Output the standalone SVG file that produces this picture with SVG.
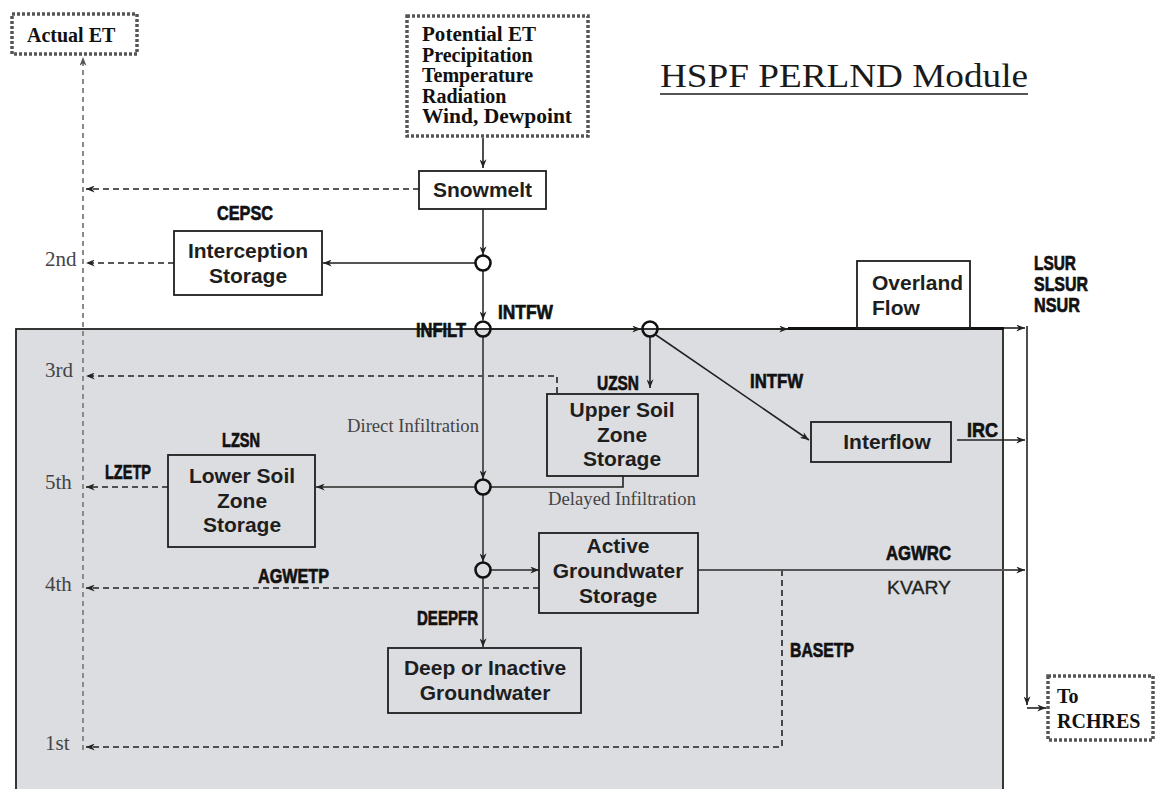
<svg xmlns="http://www.w3.org/2000/svg" width="1159" height="789" viewBox="0 0 1159 789">
<defs>
<marker id="ah" viewBox="0 0 10 8" refX="10" refY="4" markerUnits="userSpaceOnUse" markerWidth="9" markerHeight="7" orient="auto">
<path d="M0,0 L10,4 L0,8 L3,4 z" fill="#222"/>
</marker>
<marker id="ahg" viewBox="0 0 10 8" refX="10" refY="4" markerUnits="userSpaceOnUse" markerWidth="9" markerHeight="7" orient="auto">
<path d="M0,0 L10,4 L0,8 L3,4 z" fill="#555"/>
</marker>
</defs>
<style>
.box{fill:none;stroke:#1e1e1e;stroke-width:1.8}
.dot{fill:none;stroke:#555;stroke-width:3.5;stroke-dasharray:3 2}
.sb{font-family:"Liberation Sans",Arial,sans-serif;font-weight:bold;font-size:21px;fill:#1e1e1e;text-anchor:middle}
.cd{font-family:"Liberation Sans",Arial,sans-serif;font-weight:bold;font-size:21px;fill:#111;stroke:#111;stroke-width:0.7}
.tb{font-family:"Liberation Serif","Times New Roman",serif;font-weight:bold;font-size:20px;fill:#111}
.tr{font-family:"Liberation Serif","Times New Roman",serif;font-size:21px;fill:#444}
.ts{font-family:"Liberation Serif","Times New Roman",serif;font-size:18.5px;fill:#444}
.ln{fill:none;stroke:#222;stroke-width:1.6}
.lg{fill:none;stroke:#555;stroke-width:2}
.dl{fill:none;stroke:#222;stroke-width:1.6;stroke-dasharray:6 4}
.gv{fill:none;stroke:#8a8a8a;stroke-width:2;stroke-dasharray:5 4}
.jc{fill:none;stroke:#111;stroke-width:2.6}
</style>
<rect width="1159" height="789" fill="#fff"/>
<g id="soil-zone">
<rect x="16" y="329" width="987" height="480" fill="#dcdde0" stroke="#222" stroke-width="1.8"/>
</g>
<g id="title">
<text x="660" y="87" font-family="'Liberation Serif','Times New Roman',serif" font-size="34" fill="#1a1a1a" textLength="368" lengthAdjust="spacingAndGlyphs">HSPF PERLND Module</text>
<line x1="660" y1="94" x2="1028" y2="94" stroke="#1a1a1a" stroke-width="1.6"/>
</g>
<g id="connectors">
<path class="gv" d="M83,750 L83,57" marker-end="url(#ahg)"/>
<path class="dl" d="M419,189 L86,189" marker-end="url(#ah)"/>
<path class="dl" d="M174,263 L86,263" marker-end="url(#ah)"/>
<path class="dl" d="M557,393 L557,376 L86,376" marker-end="url(#ah)"/>
<path class="dl" d="M168,487 L86,487" marker-end="url(#ah)"/>
<path class="dl" d="M539,588 L86,588" marker-end="url(#ah)"/>
<path class="dl" d="M782,570 L782,747 L86,747" marker-end="url(#ah)"/>
<path class="ln" d="M483,138 L483,168" marker-end="url(#ah)"/>
<path class="lg" d="M483,209 L483,255" marker-end="url(#ah)"/>
<path class="lg" d="M475,263 L323,263" marker-end="url(#ah)"/>
<path class="lg" d="M483,271 L483,320" marker-end="url(#ah)"/>
<path class="ln" d="M491,329 L641,329" marker-end="url(#ah)"/>
<path class="ln" d="M658,329 L788,329" marker-end="url(#ah)"/>
<path d="M788,328.5 L1004,328.5" stroke="#111" stroke-width="3.2"/>
<path class="ln" d="M1004,328 L1025,328" marker-end="url(#ah)"/>
<path class="ln" d="M650,337 L650,388" marker-end="url(#ah)"/>
<path class="ln" d="M656,335 L809,440" marker-end="url(#ah)"/>
<path class="lg" d="M483,337 L483,479" marker-end="url(#ah)"/>
<path class="lg" d="M475,487 L316,487" marker-end="url(#ah)"/>
<path class="ln" d="M623,476 L623,487 L491,487"/>
<path class="lg" d="M483,495 L483,562" marker-end="url(#ah)"/>
<path class="lg" d="M491,570 L539,570" marker-end="url(#ah)"/>
<path class="lg" d="M483,578 L483,647" marker-end="url(#ah)"/>
<path class="lg" d="M698,570 L1025,570" marker-end="url(#ah)"/>
<path class="ln" d="M957,440 L1025,440" marker-end="url(#ah)"/>
<path class="ln" d="M1027,326 L1027,705" marker-end="url(#ah)"/>
<path class="ln" d="M1027,708 L1046,708" marker-end="url(#ah)"/>
<circle class="jc" cx="483" cy="263" r="7.5"/>
<circle class="jc" cx="483" cy="329" r="7.5"/>
<circle class="jc" cx="650" cy="329" r="7.5"/>
<circle class="jc" cx="483" cy="487" r="7.5"/>
<circle class="jc" cx="483" cy="570" r="7.5"/>
</g>
<g id="actual-et">
<rect class="dot" x="12" y="14" width="125" height="40"/>
<text class="tb" x="27" y="42" font-size="21">Actual ET</text>
</g>
<g id="inputs">
<rect class="dot" x="407" y="16" width="181" height="120"/>
<text class="tb" x="422" y="41" textLength="114" lengthAdjust="spacingAndGlyphs">Potential ET</text>
<text class="tb" x="422" y="62">Precipitation</text>
<text class="tb" x="422" y="82">Temperature</text>
<text class="tb" x="422" y="103">Radiation</text>
<text class="tb" x="422" y="123" textLength="150" lengthAdjust="spacingAndGlyphs">Wind, Dewpoint</text>
</g>
<g id="snowmelt">
<rect class="box" x="419" y="171" width="127" height="38" fill="#fff"/>
<text class="sb" x="482.5" y="197">Snowmelt</text>
</g>
<g id="interception">
<rect class="box" x="174" y="231" width="148" height="64"/>
<text class="sb" x="248" y="258">Interception</text>
<text class="sb" x="248" y="283">Storage</text>
<text class="cd" x="217" y="220" textLength="56" lengthAdjust="spacingAndGlyphs">CEPSC</text>
</g>
<g id="overland">
<rect class="box" x="857" y="261" width="113" height="67"/>
<text class="sb" x="872" y="290" style="text-anchor:start">Overland</text>
<text class="sb" x="872" y="315" style="text-anchor:start">Flow</text>
<text class="cd" x="1034" y="270" font-size="19" textLength="42" lengthAdjust="spacingAndGlyphs">LSUR</text>
<text class="cd" x="1034" y="291" font-size="19" textLength="54" lengthAdjust="spacingAndGlyphs">SLSUR</text>
<text class="cd" x="1034" y="312" font-size="19" textLength="46" lengthAdjust="spacingAndGlyphs">NSUR</text>
</g>
<g id="infilt-labels">
<text class="cd" x="416" y="337" textLength="50" lengthAdjust="spacingAndGlyphs">INFILT</text>
<text class="cd" x="498" y="319" textLength="55" lengthAdjust="spacingAndGlyphs">INTFW</text>
<text class="ts" x="347" y="432" textLength="132" lengthAdjust="spacingAndGlyphs">Direct Infiltration</text>
<text class="ts" x="548" y="505" textLength="148" lengthAdjust="spacingAndGlyphs">Delayed Infiltration</text>
</g>
<g id="upper-soil">
<rect class="box" x="547" y="394" width="151" height="82"/>
<text class="sb" x="622" y="417">Upper Soil</text>
<text class="sb" x="622" y="442">Zone</text>
<text class="sb" x="622" y="466">Storage</text>
<text class="cd" x="597" y="390" textLength="42" lengthAdjust="spacingAndGlyphs">UZSN</text>
</g>
<g id="interflow">
<rect class="box" x="811" y="422" width="140" height="40"/>
<text class="sb" x="887" y="449">Interflow</text>
<text class="cd" x="750" y="388" textLength="53" lengthAdjust="spacingAndGlyphs">INTFW</text>
<text class="cd" x="967" y="437" textLength="31" lengthAdjust="spacingAndGlyphs">IRC</text>
</g>
<g id="lower-soil">
<rect class="box" x="168" y="455" width="147" height="92"/>
<text class="sb" x="242" y="483">Lower Soil</text>
<text class="sb" x="242" y="508">Zone</text>
<text class="sb" x="242" y="532">Storage</text>
<text class="cd" x="222" y="447" textLength="38" lengthAdjust="spacingAndGlyphs">LZSN</text>
<text class="cd" x="105" y="479" textLength="46" lengthAdjust="spacingAndGlyphs">LZETP</text>
</g>
<g id="active-gw">
<rect class="box" x="539" y="533" width="159" height="80"/>
<text class="sb" x="618" y="553">Active</text>
<text class="sb" x="618" y="578">Groundwater</text>
<text class="sb" x="618" y="603">Storage</text>
<text class="cd" x="258" y="583" textLength="71" lengthAdjust="spacingAndGlyphs">AGWETP</text>
<text class="cd" x="886" y="560" textLength="65" lengthAdjust="spacingAndGlyphs">AGWRC</text>
<text x="887" y="594" font-family="'Liberation Sans',Arial,sans-serif" font-size="19" fill="#222" stroke="#222" stroke-width="0.3" textLength="64" lengthAdjust="spacingAndGlyphs">KVARY</text>
<text class="cd" x="790" y="657" textLength="64" lengthAdjust="spacingAndGlyphs">BASETP</text>
</g>
<g id="deep-gw">
<rect class="box" x="388" y="648" width="193" height="65"/>
<text class="sb" x="485" y="675">Deep or Inactive</text>
<text class="sb" x="485" y="700">Groundwater</text>
<text class="cd" x="417" y="625" textLength="61" lengthAdjust="spacingAndGlyphs">DEEPFR</text>
</g>
<g id="et-order">
<text class="tr" x="45" y="266">2nd</text>
<text class="tr" x="45" y="377">3rd</text>
<text class="tr" x="45" y="489">5th</text>
<text class="tr" x="45" y="591">4th</text>
<text class="tr" x="45" y="750">1st</text>
</g>
<g id="rchres">
<rect class="dot" x="1048" y="676" width="105" height="64"/>
<text class="tb" x="1057" y="703" font-size="21">To</text>
<text class="tb" x="1057" y="728" font-size="21">RCHRES</text>
</g>
</svg>
